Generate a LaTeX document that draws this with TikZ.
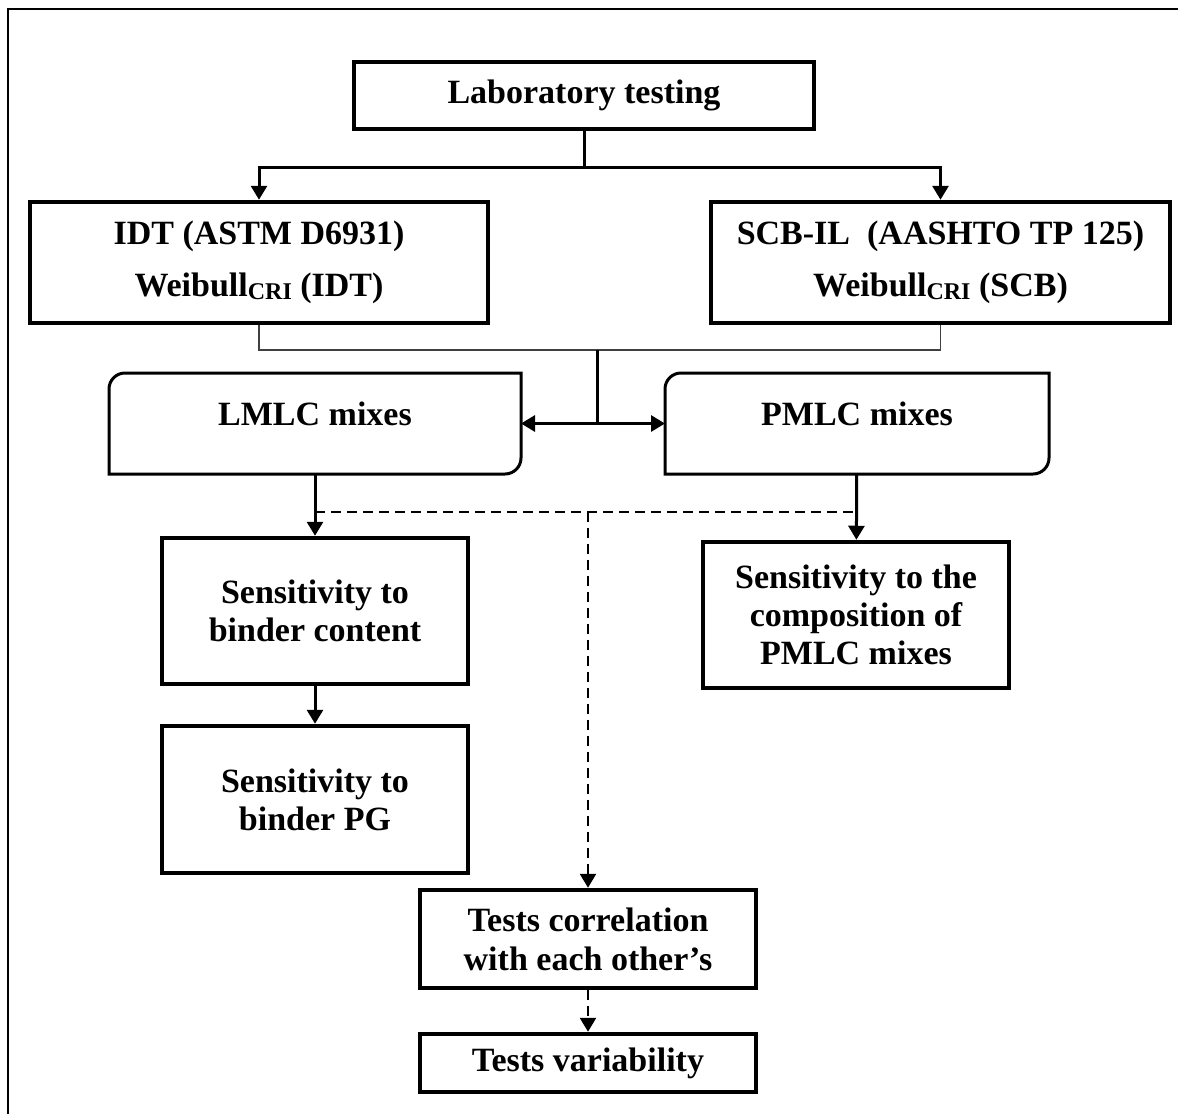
\documentclass[tikz,border=0pt]{standalone}
\usepackage{fontspec}
\setmainfont{Liberation Serif}
\usetikzlibrary{arrows.meta}
\def\BoxFont{\fontsize{34}{38}\selectfont\bfseries}
\def\ConnWidth{3pt}
\def\CornerRadius{16pt}
\newcommand\WeibullSub{\raisebox{-3pt}{\fontsize{24}{24}\selectfont CRI}}

\begin{document}
\begin{tikzpicture}[x=1pt,y=-1pt,
    box/.style={draw,line width=4.5pt,align=center,font=\BoxFont,inner sep=0pt},
    mixbox/.style={align=center,font=\BoxFont,inner sep=0pt,outer sep=0pt,text depth=20pt,minimum height=101pt},
    mixline/.style={line width=3pt},
    conn/.style={line width=\ConnWidth},
    thinline/.style={line width=1.6pt,black!75},
    dashline/.style={line width=2.6pt,dash pattern=on 10pt off 6pt},
    arrowhead/.style={-{Triangle[width=16pt,length=14pt]}}]
  \useasboundingbox (0,0) rectangle (1178,1114);
  % frame
  \draw[line width=2.2pt] (8,1114) -- (8,9) -- (1178,9);
  % boxes
  \node[box,minimum width=460pt,minimum height=67pt] (lab) at (584,95.5) {Laboratory testing};
  \node[box,minimum width=458pt,minimum height=121pt] (idt) at (259,262.5)
    {IDT (ASTM D6931)\\[14pt]Weibull\WeibullSub{} (IDT)};
  \node[box,minimum width=459pt,minimum height=121pt] (scb) at (940.5,262.5)
    {SCB-IL\ \ (AASHTO TP 125)\\[14pt]Weibull\WeibullSub{} (SCB)};
  \node[mixbox,minimum width=412pt] (lmlc) at (315,423.5) {LMLC mixes};
  \node[mixbox,minimum width=384pt] (pmlc) at (857,423.5) {PMLC mixes};
  \node[box,minimum width=306pt,minimum height=146pt] (content) at (315,611) {Sensitivity to\\binder content};
  \node[box,minimum width=306pt,minimum height=146pt] (comp) at (856,615) {Sensitivity to the\\composition of\\PMLC mixes};
  \node[box,minimum width=306pt,minimum height=147pt] (pg) at (315,799.5) {Sensitivity to\\binder PG};
  \node[box,minimum width=336pt,minimum height=98pt] (corr) at (588,939) {Tests correlation\\[1pt]with each other’s};
  \node[box,minimum width=336pt,minimum height=58pt] (var) at (588,1063) {Tests variability};
  % mix box outlines
  \draw[mixline] (lmlc.north) [rounded corners=\CornerRadius] -- (lmlc.north west) [sharp corners]
    -- (lmlc.south west) -- (lmlc.south) [rounded corners=\CornerRadius] -- (lmlc.south east) [sharp corners]
    -- (lmlc.north east) -- cycle;
  \draw[mixline] (pmlc.north) [rounded corners=\CornerRadius] -- (pmlc.north west) [sharp corners]
    -- (pmlc.south west) -- (pmlc.south) [rounded corners=\CornerRadius] -- (pmlc.south east) [sharp corners]
    -- (pmlc.north east) -- cycle;
  % junctions
  \coordinate (split) at (584,167);
  \coordinate (merge) at (597,350);
  \coordinate (fork) at (597,423.5);
  \coordinate (dashL) at (315,512);
  \coordinate (dashM) at (588,512);
  \coordinate (dashR) at (856,512);
  % solid connectors
  \draw[conn] (lab) -- (split);
  \draw[conn,arrowhead] (split) -| (idt);
  \draw[conn,arrowhead] (split) -| (scb);
  \draw[thinline] (idt) |- (merge) -| (scb);
  \draw[conn] (merge) -- (fork);
  \draw[conn,arrowhead] (fork) -- (lmlc);
  \draw[conn,arrowhead] (fork) -- (pmlc);
  \draw[conn,arrowhead] (lmlc) -- (content);
  \draw[conn,arrowhead] (pmlc) -- (comp);
  \draw[conn,arrowhead] (content) -- (pg);
  % dashed connectors
  \draw[dashline] (dashL) -- (dashR);
  \draw[dashline,arrowhead] (dashM) -- (corr);
  \draw[dashline,arrowhead] (corr) -- (var);
\end{tikzpicture}
\end{document}
